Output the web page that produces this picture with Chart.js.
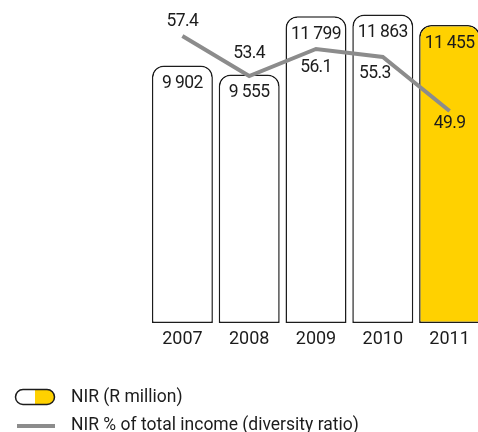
<!DOCTYPE html>
<html>
<head>
<meta charset="utf-8">
<script src="https://cdn.jsdelivr.net/npm/chart.js@4"></script>
<style>
  html, body { margin: 0; padding: 0; overflow: hidden; background: #fff; }
  #wrap { width: 478px; height: 432px; overflow: hidden; position: relative; }
  canvas { display: block; }
</style>
</head>
<body>
<div id="wrap"><canvas id="c" width="490" height="432"></canvas></div>
<script>
// ---- data ----
const years = ['2007', '2008', '2009', '2010', '2011'];
const nirValues = [9902, 9555, 11799, 11863, 11455];          // NIR (R million)
const diversityRatio = [57.4, 53.4, 56.1, 55.3, 49.9];        // NIR % of total income
const legendLabels = ['NIR (R million)', 'NIR % of total income (diversity ratio)'];

// ---- style ----
const YELLOW = '#FFD100';
const INK = '#1c1c1c';
const GREY = '#8c8c8c';
const FONT = 'Roboto, "Liberation Sans", sans-serif';
// label offsets (dx, dy) relative to each line point
const ratioLabelOffset = [[0, -14], [0, -22], [0, 19], [-8, 17], [0, 13]];

function fmtThousands(v) {
  return String(v).replace(/\B(?=(\d{3})+(?!\d))/g, ' ');
}

const labelPlugin = {
  id: 'valueLabels',
  afterDatasetsDraw(chart) {
    const ctx = chart.ctx;
    ctx.save();
    ctx.fillStyle = INK;
    ctx.textAlign = 'center';
    ctx.textBaseline = 'middle';
    ctx.font = '17.5px ' + FONT;
    if ('letterSpacing' in ctx) ctx.letterSpacing = '-0.6px';
    chart.getDatasetMeta(1).data.forEach((bar, i) => {
      ctx.fillText(fmtThousands(nirValues[i]), bar.x, bar.y + 18.5);
    });
    chart.getDatasetMeta(0).data.forEach((pt, i) => {
      const [dx, dy] = ratioLabelOffset[i];
      ctx.fillText(diversityRatio[i].toFixed(1), pt.x + dx, pt.y + dy);
    });
    ctx.restore();
  },
  afterDraw(chart) {
    const ctx = chart.ctx;
    ctx.save();
    // pill symbol
    const x0 = 15.5, y0 = 389.5, w = 39, h = 15, r = h / 2;
    ctx.beginPath();
    ctx.moveTo(x0 + r, y0);
    ctx.lineTo(x0 + w - r, y0);
    ctx.arc(x0 + w - r, y0 + r, r, -Math.PI / 2, Math.PI / 2);
    ctx.lineTo(x0 + r, y0 + h);
    ctx.arc(x0 + r, y0 + r, r, Math.PI / 2, Math.PI * 1.5);
    ctx.closePath();
    ctx.fillStyle = '#fff';
    ctx.fill();
    ctx.save();
    ctx.clip();
    ctx.fillStyle = YELLOW;
    ctx.fillRect(x0 + w / 2, y0, w / 2 + 2, h + 1);
    ctx.restore();
    ctx.lineWidth = 1.5;
    ctx.strokeStyle = INK;
    ctx.stroke();
    // line symbol
    ctx.beginPath();
    ctx.moveTo(17, 426);
    ctx.lineTo(55, 426);
    ctx.lineWidth = 4;
    ctx.strokeStyle = GREY;
    ctx.stroke();
    // texts
    ctx.fillStyle = INK;
    ctx.font = '17.5px ' + FONT;
    ctx.textAlign = 'left';
    ctx.textBaseline = 'middle';
    ctx.fillText(legendLabels[0], 71, 398);
    ctx.fillText(legendLabels[1], 71, 426);
    ctx.restore();
  }
};

new Chart(document.getElementById('c'), {
  data: {
    labels: years,
    datasets: [
      {
        type: 'line',
        label: legendLabels[1],
        data: diversityRatio,
        yAxisID: 'y2',
        borderColor: GREY,
        borderWidth: 4,
        pointRadius: 0,
        tension: 0,
        fill: false,
        order: 0
      },
      {
        type: 'bar',
        label: legendLabels[0],
        data: nirValues,
        yAxisID: 'y',
        backgroundColor: ['#ffffff', '#ffffff', '#ffffff', '#ffffff', YELLOW],
        borderColor: INK,
        borderWidth: 1.5,
        borderSkipped: false,
        borderRadius: { topLeft: 12, topRight: 12, bottomLeft: 0, bottomRight: 0 },
        barPercentage: 0.913,
        categoryPercentage: 1.0,
        order: 1
      }
    ]
  },
  options: {
    responsive: false,
    animation: false,
    layout: { padding: { left: 149, right: 7, top: 0, bottom: 79 } },
    plugins: { legend: { display: false }, tooltip: { enabled: false } },
    scales: {
      x: {
        grid: { display: false, drawTicks: false },
        border: { display: false },
        ticks: { color: INK, font: { family: FONT, size: 18 }, padding: 6 },
        afterFit(scale) { scale.height = 30; }
      },
      y: {
        display: false,
        min: 0,
        max: 12420
      },
      y2: {
        display: false,
        min: 28.7,
        max: 61.0
      }
    }
  },
  plugins: [labelPlugin]
});
</script>
</body>
</html>
